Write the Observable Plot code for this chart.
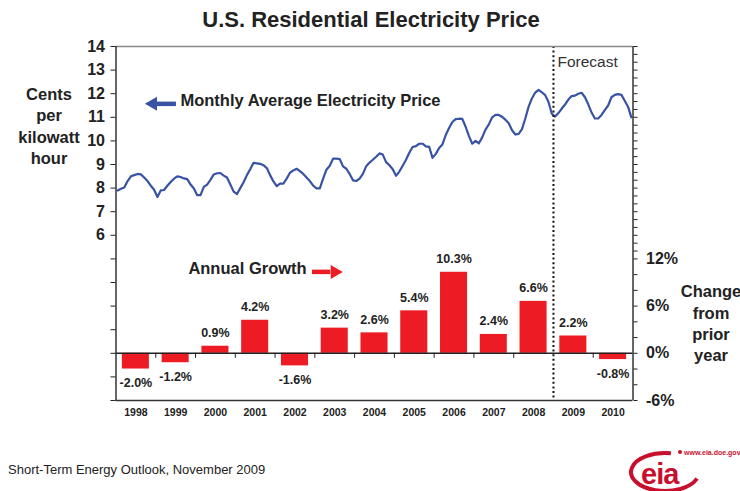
<!DOCTYPE html>
<html><head><meta charset="utf-8">
<script src="https://cdn.jsdelivr.net/npm/d3@7"></script>
<script src="https://cdn.jsdelivr.net/npm/@observablehq/plot@0.6"></script>
<style>
body{margin:0;background:#fff;font-family:"Liberation Sans",Arial,sans-serif;}
#wrap{width:740px;height:491px;position:relative;overflow:hidden;background:#fff;}
#title{height:36px;line-height:39px;text-align:center;font-size:22px;font-weight:bold;color:#222;padding-left:2px;}
#chart svg{display:block;}
#footer{position:relative;height:51px;}
</style></head><body>
<div id="wrap">
  <div id="title">U.S. Residential Electricity Price</div>
  <div id="chart"></div>
  <div id="footer">
    <div style="position:absolute;left:8px;top:22px;font-size:13px;color:#222;">Short-Term Energy Outlook, November 2009</div>
    <svg style="position:absolute;left:628px;top:5px;" width="112" height="46">
      <path d="M42.9,8.3 A34,19 0 1 0 69,33.5" fill="none" stroke="#c8102e" stroke-width="4"/>
      <text x="13" y="39" font-size="29" font-weight="bold" fill="#c8102e" font-family="Liberation Sans, Arial" letter-spacing="-1">eia</text>
      <circle cx="52" cy="7" r="2" fill="#c8102e"/>
      <text x="56" y="10" font-size="7" font-weight="bold" fill="#c8102e" font-family="Liberation Sans, Arial">www.eia.doe.gov</text>
    </svg>
  </div>
</div>
<script>
// ---- data ----
const years = [1998,1999,2000,2001,2002,2003,2004,2005,2006,2007,2008,2009,2010];
const growth = [-2.0,-1.2,0.9,4.2,-1.6,3.2,2.6,5.4,10.3,2.4,6.6,2.2,-0.8]; // % change from prior year
// monthly average residential price, cents per kWh, Jan 1998 .. Dec 2010
const monthlyPrice = [
  7.90, 7.97, 8.03, 8.30, 8.50, 8.55, 8.60, 8.58, 8.45, 8.30, 8.10, 7.93,
  7.62, 7.90, 7.92, 8.10, 8.26, 8.40, 8.50, 8.47, 8.41, 8.38, 8.15, 7.98,
  7.70, 7.70, 8.05, 8.15, 8.35, 8.58, 8.63, 8.64, 8.53, 8.45, 8.15, 7.85,
  7.75, 8.00, 8.25, 8.55, 8.80, 9.07, 9.05, 9.03, 8.97, 8.85, 8.55, 8.28,
  8.08, 8.19, 8.19, 8.40, 8.65, 8.75, 8.82, 8.72, 8.60, 8.45, 8.30, 8.10,
  7.99, 7.99, 8.40, 8.78, 8.95, 9.25, 9.25, 9.23, 8.92, 8.82, 8.60, 8.33,
  8.30, 8.40, 8.60, 8.93, 9.08, 9.20, 9.33, 9.47, 9.42, 9.10, 8.97, 8.80,
  8.52, 8.70, 8.95, 9.20, 9.50, 9.74, 9.78, 9.88, 9.88, 9.77, 9.75, 9.28,
  9.45, 9.70, 9.85,10.25,10.55,10.80,10.92,10.94,10.93,10.60,10.20, 9.88,
 10.00, 9.90,10.15,10.48,10.70,11.00,11.10,11.10,11.02,10.90,10.75,10.45,
 10.27,10.30,10.50,10.95,11.45,11.80,12.05,12.16,12.06,11.94,11.65,11.15,
 11.03,11.18,11.37,11.54,11.75,11.90,11.92,12.00,12.04,11.85,11.55,11.20,
 10.95,10.95,11.10,11.30,11.50,11.85,11.95,11.98,11.95,11.70,11.45,11.00
];
const leftTicks = [-1,0,1,2,3,4,5,6,7,8,9,10,11,12,13,14];
const leftTickLabels = [6,7,8,9,10,11,12,13,14];
const rightTicks = [-6,-4,-2,0,2,4,6,8,10,12,13,14,15,16,17,18,19,20,21,22,23,24,25,26,27,28,29,30,31,32,33,34,35,36,37,38,39];
const rightTickLabels = [-6,0,6,12];
const forecastStart = 2009;

// ---- derived tables ----
const toLeft = p => 1 + p / 3;           // percent change -> left-axis units (0% sits at 1 cent)
const fromLeft = v => Math.round((v - 1) * 3);
const priceRows = monthlyPrice.map((v, i) => ({t: years[0] + (i + 0.5) / 12, v}));
const growthRows = years.map((yr, i) => ({year: yr, g: growth[i]}));

// annotation anchors (in data units)
const notes = [
  {x: 1999.62, y: 11.70, text: "Monthly Average Electricity Price", anchor: "start"},
  {x: 1999.82, y: 4.58, text: "Annual Growth", anchor: "start"}
];
const arrowShafts = [
  {x1: 1999.02, x2: 1999.52, y: 11.57, color: "#3953a4", w: 4.5},
  {x1: 2002.94, x2: 2003.40, y: 4.45, color: "#ed1c24", w: 4.5}
];
const arrowHeads = [
  {x: 1998.93, y: 11.57, color: "#3953a4", rot: -90},
  {x: 2003.50, y: 4.45, color: "#ed1c24", rot: 90}
];

const font = '"Liberation Sans", Arial, sans-serif';
const chart = Plot.plot({
  width: 740, height: 404,
  marginLeft: 115.5, marginRight: 107.5, marginTop: 10, marginBottom: 40,
  style: {fontFamily: font, color: "#222", background: "white", overflow: "visible"},
  x: {domain: [1998, 2011]},
  y: {domain: [-1, 14]},
  marks: [
    Plot.rectY(growthRows, {x1: d => d.year + 0.16, x2: d => d.year + 0.84, y1: toLeft(0), y2: d => toLeft(d.g), fill: "#ed1c24"}),
    Plot.ruleY([toLeft(0)], {stroke: "#222", strokeWidth: 1.5}),
    Plot.ruleX(years.slice(1).filter(y => y !== forecastStart), {x: d => d, y1: toLeft(0), y2: toLeft(0) - 5 / 23.6, stroke: "#222"}),
    Plot.text(growthRows.filter(d => d.g >= 0), {x: d => d.year + 0.5, y: d => toLeft(d.g), text: d => d.g.toFixed(1) + "%", dy: -13, fontSize: 12.5, fontWeight: "bold", fill: "#222"}),
    Plot.text(growthRows.filter(d => d.g < 0), {x: d => d.year + 0.5, y: d => toLeft(d.g), text: d => d.g.toFixed(1) + "%", dy: 14, fontSize: 12.5, fontWeight: "bold", fill: "#222"}),
    Plot.line(priceRows, {x: "t", y: "v", stroke: "#3953a4", strokeWidth: 2.2}),
    Plot.ruleX([forecastStart], {stroke: "#111", strokeWidth: 2, strokeDasharray: "2,2.6"}),
    Plot.text(["Forecast"], {x: forecastStart, y: 13.33, text: d => d, dx: 4, textAnchor: "start", fontSize: 15.5, fill: "#333"}),
    // frame
    Plot.ruleY([14], {stroke: "#888", strokeWidth: 1.5}),
    Plot.ruleY([-1], {stroke: "#333", strokeWidth: 1.5}),
    Plot.ruleX([1998], {stroke: "#333", strokeWidth: 1.5}),
    Plot.ruleX([2011], {stroke: "#333", strokeWidth: 1.5}),
    // axes
    Plot.axisY(leftTicks, {anchor: "left", tickSize: 5, tickPadding: 6, fontSize: 16, fontWeight: "bold", label: null,
      tickFormat: d => leftTickLabels.includes(d) ? String(d) : ""}),
    Plot.axisY(rightTicks.map(toLeft), {anchor: "right", tickSize: 4, tickPadding: 9, fontSize: 16, fontWeight: "bold", label: null,
      tickFormat: d => rightTickLabels.includes(fromLeft(d)) ? fromLeft(d) + "%" : ""}),
    Plot.axisX(years.map(y => y + 0.5), {anchor: "bottom", tickSize: 0, tickPadding: 8, fontSize: 10.5, fontWeight: "bold", label: null,
      tickFormat: d => String(Math.floor(d))}),
    // side labels
    Plot.text(["Cents\nper\nkilowatt\nhour"], {x: 1998, y: 10.67, text: d => d, dx: -67, lineHeight: 1.3, fontSize: 16.5, fontWeight: "bold", fill: "#222"}),
    Plot.text(["Change\nfrom\nprior\nyear"], {x: 2011, y: 2.31, text: d => d, dx: 78, lineHeight: 1.3, fontSize: 16.5, fontWeight: "bold", fill: "#222"}),
    // annotations
    Plot.text(notes, {x: "x", y: "y", text: "text", textAnchor: "start", fontSize: 16.5, fontWeight: "bold", fill: "#222"}),
    Plot.ruleY(arrowShafts, {x1: "x1", x2: "x2", y: "y", stroke: "color", strokeWidth: 4.5}),
    Plot.dot(arrowHeads, {x: "x", y: "y", fill: "color", symbol: "triangle", r: 5.2, rotate: "rot"})
  ]
});
document.getElementById("chart").appendChild(chart);
</script>
</body></html>
